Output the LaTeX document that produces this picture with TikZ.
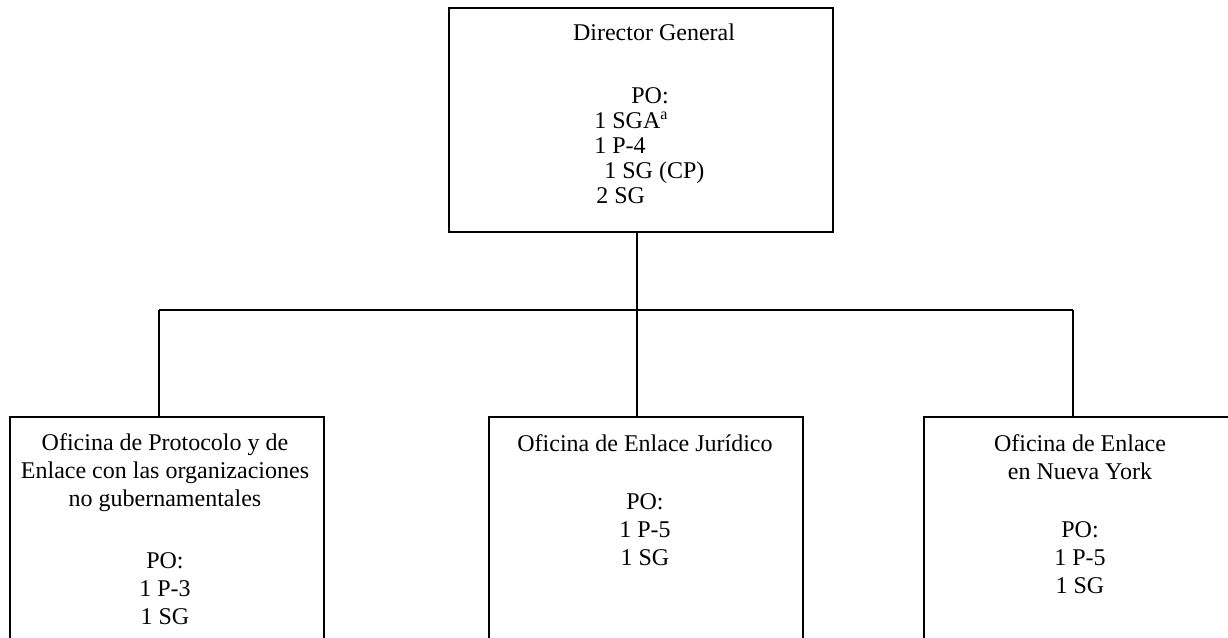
\documentclass[tikz,border=0pt]{standalone}
\usepackage{fontspec}
\setmainfont{Liberation Serif}
\usepackage{tikz}
\usetikzlibrary{positioning,calc}
\tikzset{
  basic/.style  = {draw, line width=1pt, rectangle, inner sep=0pt},
  head/.style   = {basic, minimum width=192pt, minimum height=112pt},
  office/.style = {basic, minimum width=157pt, minimum height=122pt},
  txt/.style    = {inner sep=0pt, align=center,
                   font=\fontsize{12pt}{14pt}\selectfont},
  lst/.style    = {inner sep=0pt, align=left,
                   font=\fontsize{12pt}{12.5pt}\selectfont},
  link/.style   = {line width=0.6pt},
  bus/.style    = {line width=0.9pt}
}

\begin{document}
\begin{tikzpicture}[x=0.5pt,y=-0.5pt]
  \useasboundingbox (0,0) rectangle (1228,638);
  \clip (0,0) rectangle (1228,638);
  % boxes
  \node[head, anchor=north west] (dg) at (448,7) {};
  \node[office, anchor=north west] (prot) at (9,416) {};
  \node[office, anchor=north west] (jur) at (488,416) {};
  \node[office, anchor=north west] (ny) at (923,416) {};
  % texts (anchored at the baseline of the last line)
  \node[txt, anchor=base] (dgname) at (654,40) {Director General};
  \node[txt, anchor=base] (dgpo) at (650,103) {PO:};
  \node[lst, anchor=base west] (dgpost) at (594,203)
        {1 SGA\textsuperscript{a}\\ 1 P-4\\ \hspace*{5pt}1 SG (CP)\\ \hspace*{1pt}2 SG};
  \node[txt, anchor=base] (prottext) at (165,624)
        {Oficina de Protocolo y de\\ Enlace con las organizaciones\\
         no gubernamentales\\[17pt] PO:\\ 1 P-3\\ 1 SG};
  \node[txt, anchor=base] (jurtext) at (645,565)
        {Oficina de Enlace Jurídico\\[15pt] PO:\\ 1 P-5\\ 1 SG};
  \node[txt, anchor=base] (nytext) at (1080,593)
        {Oficina de Enlace\\ en Nueva York\\[15pt] PO:\\ 1 P-5\\ 1 SG};
  % connectors
  \coordinate (top) at (637,310);
  \coordinate (left) at (159,310);
  \coordinate (right) at (1073,310);
  \draw[link] (dg.south -| top) -- (top);
  \draw[bus] (left) -- (right);
  \draw[link] (left) -- (left |- prot.north);
  \draw[link] (top) -- (top |- jur.north);
  \draw[link] (right) -- (right |- ny.north);
\end{tikzpicture}
\end{document}
